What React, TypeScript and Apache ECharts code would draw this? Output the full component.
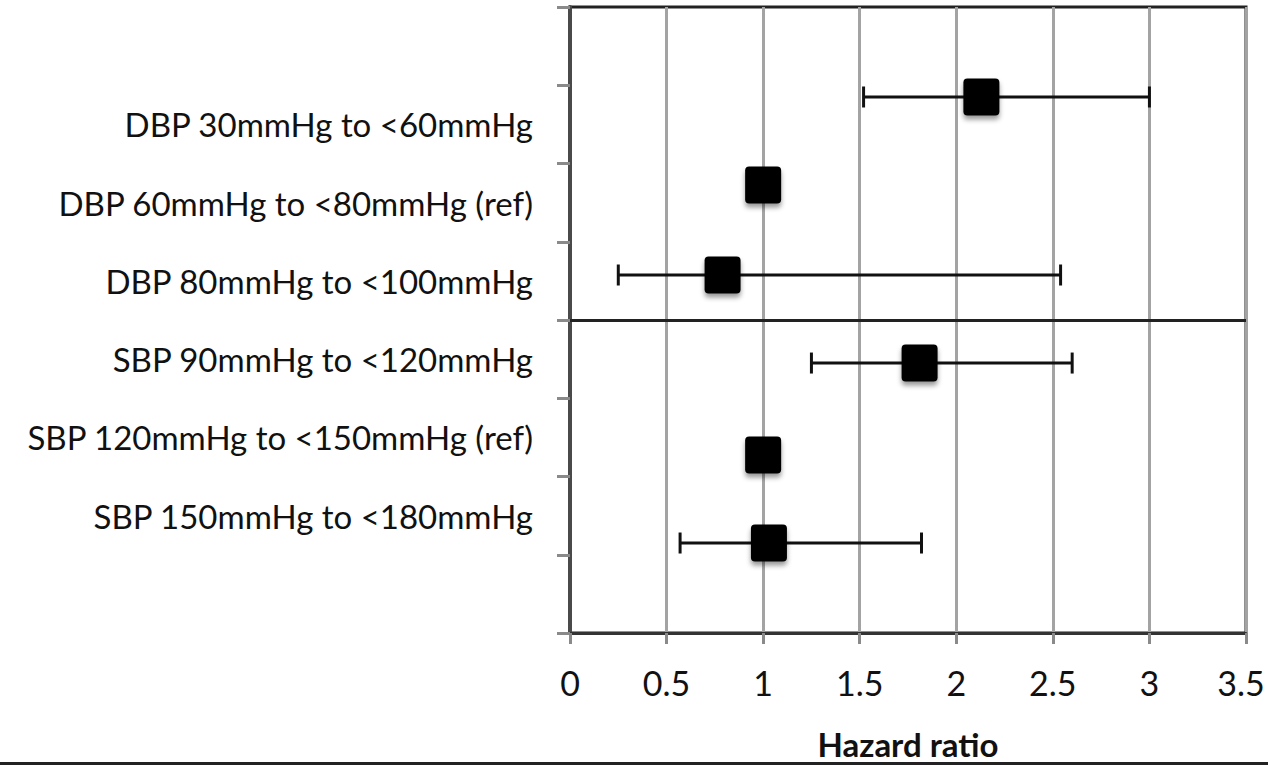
import React, { useEffect, useRef } from "react";
import * as echarts from "echarts";

// Row labels (top to bottom); empty slots above and below the rows
const rowLabels = [
  "",
  "DBP 30mmHg to <60mmHg",
  "DBP 60mmHg to <80mmHg (ref)",
  "DBP 80mmHg to <100mmHg",
  "SBP 90mmHg to <120mmHg",
  "SBP 120mmHg to <150mmHg (ref)",
  "SBP 150mmHg to <180mmHg",
  "",
];

// Hazard ratios, one per row
const hazardRatio = [2.13, 1.0, 0.79, 1.81, 1.0, 1.03];
// 95% CI bounds (null for reference groups)
const ciLow = [1.52, null, 0.25, 1.25, null, 0.57];
const ciHigh = [3.0, null, 2.54, 2.6, null, 1.82];
// Vertical position of each row on the value y-axis (0..8)
const rowPos = [6.85, 5.725, 4.575, 3.45, 2.275, 1.15];
// Separator between DBP and SBP groups
const separatorY = [4];
// x-axis range
const xMin = 0;
const xMax = 3.5;
const xStep = 0.5;

const squareSymbol =
  "path://M4,0H32Q36,0 36,4V33Q36,37 32,37H4Q0,37 0,33V4Q0,0 4,0Z";

export default function App() {
  const ref = useRef<HTMLDivElement>(null);

  useEffect(() => {
    if (!ref.current) return;
    const chart = echarts.init(ref.current, null, { renderer: "svg" });

    const points = hazardRatio.map((hr, i) => [hr, rowPos[i]]);
    const bars = hazardRatio
      .map((_, i) => (ciLow[i] == null ? null : [ciLow[i], ciHigh[i], rowPos[i]]))
      .filter((d) => d != null);

    const tickFont = { fontFamily: "Lato", fontSize: 34, color: "#111" };

    const option: any = {
      animation: false,
      backgroundColor: "#ffffff",
      grid: {
        left: 570,
        right: 22,
        top: 7,
        bottom: 132,
        containLabel: false,
        outerBoundsMode: "none",
        show: true,
        borderColor: "#222",
        borderWidth: 3,
        backgroundColor: "transparent",
      },
      xAxis: {
        type: "value",
        min: xMin,
        max: xMax,
        interval: xStep,
        axisLine: { show: true, onZero: false, lineStyle: { color: "#333", width: 3 } },
        axisTick: { show: true, length: 11, lineStyle: { color: "#8a8a8a", width: 3 } },
        splitLine: { show: true, lineStyle: { color: "#a3a3a3", width: 3 } },
        axisLabel: {
          ...tickFont,
          margin: 32,
          formatter: (v: number) => (v === xMax ? `{e|${v}}` : `${v}`),
          rich: { e: { ...tickFont, padding: [0, 10, 0, 0] } },
        },
        name: "Hazard ratio",
        nameLocation: "middle",
        nameGap: 94,
        nameTextStyle: {
          fontFamily: "Lato",
          fontWeight: "bold",
          fontSize: 33,
          color: "#111",
        },
      },
      yAxis: [
        {
          type: "value",
          min: 0,
          max: 8,
          interval: 1,
          axisLabel: { show: false },
          axisTick: { show: true, length: 13, lineStyle: { color: "#8a8a8a", width: 3 } },
          axisLine: { show: true, onZero: false, lineStyle: { color: "#4a4a4a", width: 4 } },
          splitLine: { show: false },
        },
        {
          type: "category",
          data: rowLabels,
          inverse: true,
          position: "left",
          axisLine: { show: false },
          axisTick: { show: false },
          splitLine: { show: false },
          axisLabel: {
            interval: 0,
            fontFamily: "Lato",
            fontSize: 33,
            color: "#111",
            margin: 37,
            padding: [10, 0, 0, 0],
          },
        },
      ],
      series: [
        {
          type: "custom",
          name: "CI",
          xAxisIndex: 0,
          yAxisIndex: 0,
          data: bars,
          encode: { x: [0, 1], y: 2 },
          z: 2,
          renderItem: (params: any, api: any) => {
            const lo = api.coord([api.value(0), api.value(2)]);
            const hi = api.coord([api.value(1), api.value(2)]);
            const h = 10.5;
            const style = { stroke: "#111", lineWidth: 3 };
            return {
              type: "group",
              children: [
                { type: "line", shape: { x1: lo[0], y1: lo[1], x2: hi[0], y2: hi[1] }, style },
                { type: "line", shape: { x1: lo[0], y1: lo[1] - h, x2: lo[0], y2: lo[1] + h }, style },
                { type: "line", shape: { x1: hi[0], y1: hi[1] - h, x2: hi[0], y2: hi[1] + h }, style },
              ],
            };
          },
        },
        {
          type: "scatter",
          name: "HR",
          xAxisIndex: 0,
          yAxisIndex: 0,
          data: points,
          symbol: squareSymbol,
          symbolSize: [36, 37],
          z: 3,
          itemStyle: {
            color: "#000",
            opacity: 1,
            shadowBlur: 5,
            shadowColor: "rgba(0,0,0,0.4)",
            shadowOffsetY: 4,
          },
          markLine: {
            silent: true,
            symbol: "none",
            label: { show: false },
            lineStyle: { color: "#222", width: 3, type: "solid" },
            data: separatorY.map((v) => ({ yAxis: v })),
          },
        },
      ],
      graphic: [
        {
          type: "line",
          shape: { x1: 0, y1: 763.5, x2: 1268, y2: 763.5 },
          style: { stroke: "#222", lineWidth: 3 },
        },
      ],
    };

    chart.setOption(option);
    return () => chart.dispose();
  }, []);

  return (
    <div
      ref={ref}
      style={{ position: "fixed", left: 0, top: 0, width: 1268, height: 765, background: "#fff" }}
    />
  );
}
